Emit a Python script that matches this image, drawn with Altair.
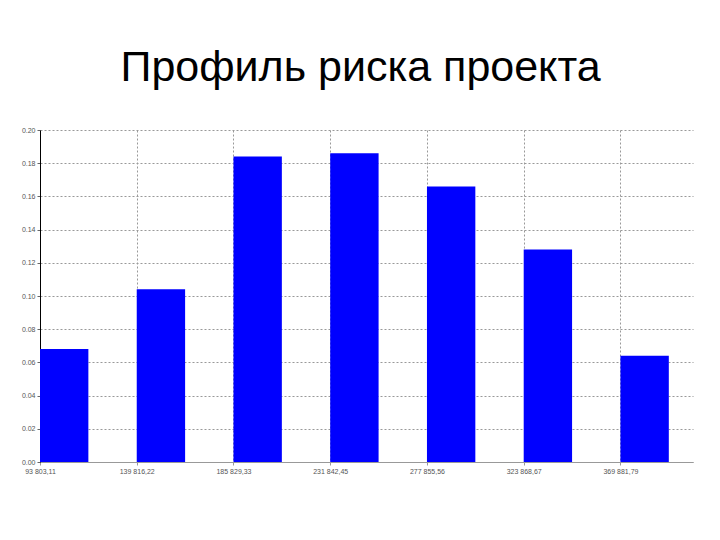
import altair as alt
import pandas as pd

starts = [93803.11, 139816.22, 185829.33, 231842.45, 277855.56, 323868.67, 369881.79]
labels = ["93 803,11", "139 816,22", "185 829,33", "231 842,45", "277 855,56", "323 868,67", "369 881,79"]
probs = [0.068, 0.104, 0.184, 0.186, 0.166, 0.128, 0.064]

step = starts[1] - starts[0]
df = pd.DataFrame({
    "start": starts,
    "end": [s + step / 2 for s in starts],
    "p": probs,
})

label_arr = "[" + ",".join("'" + l + "'" for l in labels) + "]"
label_expr = f"{label_arr}[round((datum.value - {starts[0]}) / {step})]"

xmax = starts[0] + step * 6.75

chart = alt.Chart(df).mark_bar(color="#0000FF").encode(
    x=alt.X("start:Q", scale=alt.Scale(domain=[starts[0], xmax], nice=False, zero=False),
            axis=alt.Axis(values=starts, labelExpr=label_expr, title=None, grid=True,
                          gridDash=[2, 2], gridColor="#999999", domainColor="#999999",
                          tickSize=3, tickColor="#999999", labelFontSize=7, labelColor="#555555",
                          labelFont="Liberation Sans", labelFlush=False)),
    x2="end:Q",
    y=alt.Y("p:Q", scale=alt.Scale(domain=[0, 0.2], nice=False),
            axis=alt.Axis(values=[0, 0.02, 0.04, 0.06, 0.08, 0.10, 0.12, 0.14, 0.16, 0.18, 0.20],
                          format=".2f", title=None, grid=True, gridDash=[2, 2], gridColor="#999999",
                          domainColor="#000000", tickSize=3, tickColor="#666666", labelFontSize=7,
                          labelColor="#555555", labelFont="Liberation Sans", labelFlush=False)),
    y2=alt.datum(0),
).properties(
    width=653,
    height=332,
    title=alt.TitleParams("Профиль риска проекта", font="Liberation Sans", fontSize=43,
                          fontWeight="normal", color="#000000", offset=36, dx=-6),
    autosize=alt.AutoSizeParams(type="none"),
    padding={"left": 32, "top": 122, "right": 19, "bottom": 70},
).configure_view(stroke=None)

chart.save("out.html", embed_options={"renderer": "svg", "actions": False})
